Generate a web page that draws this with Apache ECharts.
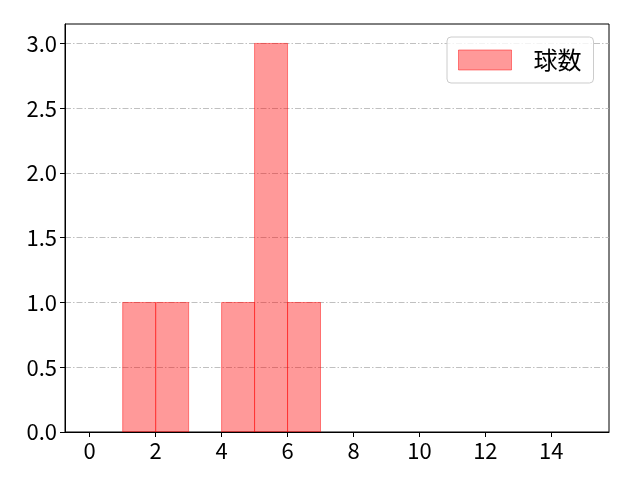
<!DOCTYPE html>
<html>
<head>
<meta charset="utf-8">
<script src="https://cdn.jsdelivr.net/npm/echarts@6/dist/echarts.min.js"></script>
<style>html,body{margin:0;padding:0;background:#fff}#c{width:640px;height:480px}</style>
</head>
<body>
<div id="c"></div>
<script>
const seriesName = '球数';
const binStarts = [1, 2, 4, 5, 6];
const binEnds = [2, 3, 5, 6, 7];
const counts = [1, 1, 1, 3, 1];
const xTicks = [0, 2, 4, 6, 8, 10, 12, 14];
const yTicks = [0, 0.5, 1.0, 1.5, 2.0, 2.5, 3.0];

const FONT = '"Noto Sans CJK JP", "Noto Sans", sans-serif';
const fill = 'rgba(255,0,0,0.4)';
const edge = 'rgba(255,0,0,0.45)';

const data = binStarts.map((s, i) => [s, binEnds[i], counts[i]]);

const chart = echarts.init(document.getElementById('c'), null, {renderer: 'canvas'});
chart.setOption({
  animation: false,
  backgroundColor: '#fff',
  grid: {left: 65, right: 31, top: 24, bottom: 48, show: true, borderColor: '#000', borderWidth: 1, backgroundColor: 'transparent', containLabel: false},
  legend: {
    left: 447, top: 37,
    data: [seriesName],
    icon: 'rect',
    itemWidth: 53, itemHeight: 20,
    padding: [11, 12, 11, 11],
    borderColor: '#cccccc', borderWidth: 1, borderRadius: 4,
    backgroundColor: 'rgba(255,255,255,0.8)',
    textStyle: {fontFamily: FONT, fontSize: 24, color: '#000', padding: [0, 0, 0, 17]},
    itemStyle: {color: fill, borderColor: edge, borderWidth: 1}
  },
  xAxis: {
    type: 'value', min: -0.75, max: 15.75,
    axisLine: {show: true, onZero: false, lineStyle: {color: '#000', width: 1}},
    axisTick: {show: true, inside: false, length: 5, customValues: xTicks, lineStyle: {color: '#000'}},
    axisLabel: {customValues: xTicks, fontFamily: FONT, fontSize: 22, color: '#000', margin: 8},
    splitLine: {show: false}
  },
  yAxis: {
    type: 'value', min: 0, max: 3.15, interval: 0.5,
    axisLine: {show: true, onZero: false, lineStyle: {color: '#000', width: 1}},
    axisTick: {show: true, inside: false, length: 5, customValues: yTicks, lineStyle: {color: '#000'}},
    axisLabel: {customValues: yTicks, fontFamily: FONT, fontSize: 22, color: '#000', margin: 8, formatter: v => v.toFixed(1)},
    splitLine: {show: true, lineStyle: {color: '#b0b0b0', width: 0.8, type: [6, 2, 1.5, 2]}}
  },
  series: [{
    name: seriesName,
    type: 'custom',
    clip: true,
    itemStyle: {color: fill, borderColor: edge, borderWidth: 1},
    encode: {x: [0, 1], y: 2},
    data: data,
    renderItem: function (params, api) {
      const p0 = api.coord([api.value(0), api.value(2)]);
      const p1 = api.coord([api.value(1), 0]);
      return {
        type: 'rect',
        shape: {x: p0[0], y: p0[1], width: p1[0] - p0[0], height: p1[1] - p0[1]},
        style: {fill: fill, stroke: edge, lineWidth: 1}
      };
    }
  }]
});
</script>
</body>
</html>
